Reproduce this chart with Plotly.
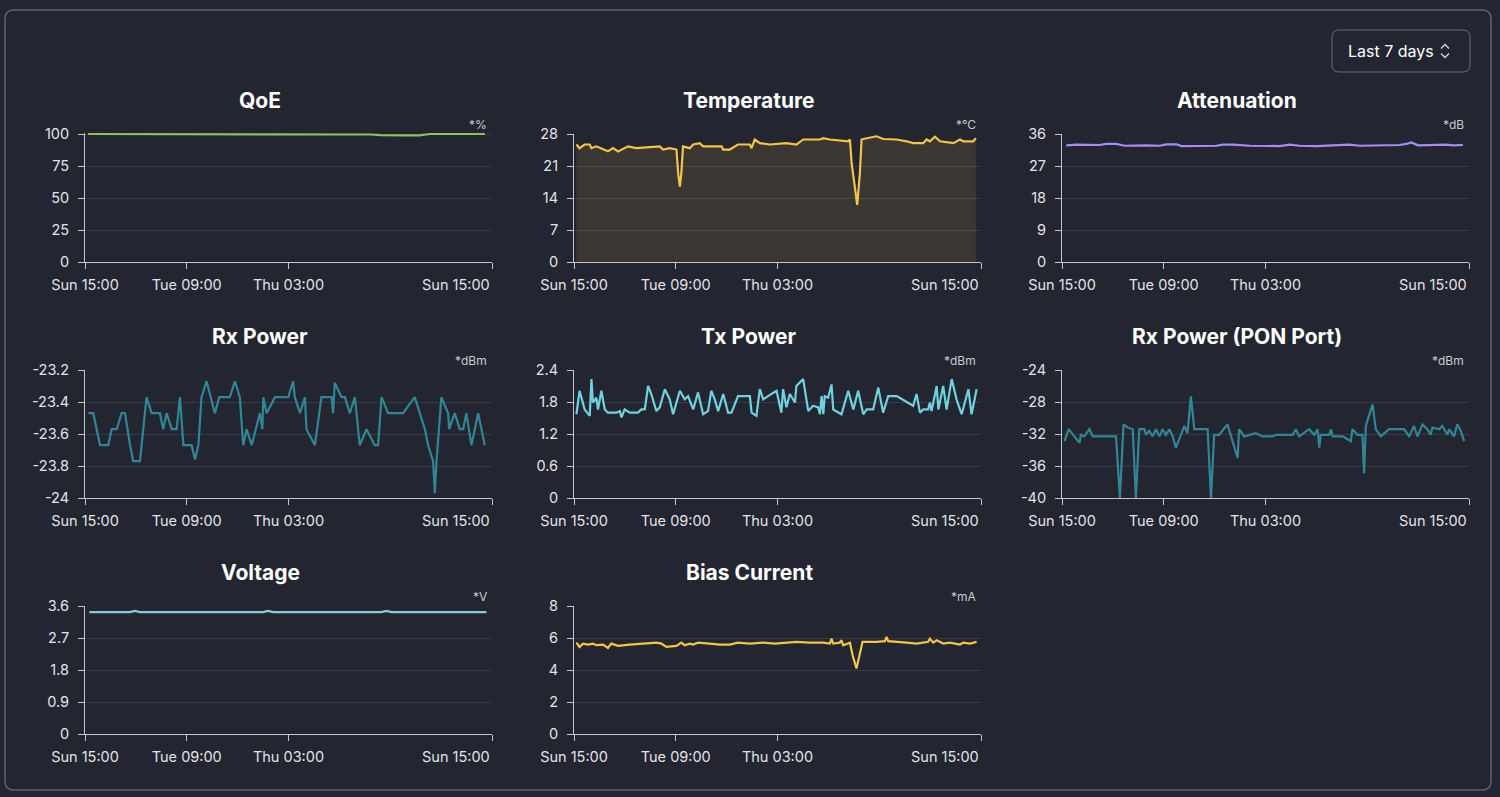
import plotly.graph_objects as go

W, H = 1500, 797
BG = "#232530"
AXIS_COLOR = "#c4c6ce"
GRID_COLOR = "#363946"
TEXT_COLOR = "#e2e3e8"
FONT = "Inter, Roboto, 'Noto Sans', sans-serif"

# ---- x axis (hours since Sun 15:00, 7-day window) ----
X_RANGE = [0, 168]
X_TICK_VALS = [0, 42, 84, 168]
X_TICK_TEXT = ["Sun 15:00", "Tue 09:00", "Thu 03:00", "Sun 15:00"]

# ---- QoE (%) ----
qoe_hours = [1.3, 30, 60, 90, 113.5, 118, 122, 126, 132, 138, 142.4, 150, 165]
qoe_values = [100, 100, 100, 100, 100, 99.6, 99.1, 98.9, 98.9, 99.0, 100, 100, 100]

# ---- Temperature (°C) ----
temp_hours = [1.0, 2.3, 4.4, 6.5, 7.2, 9.2, 14.0, 16.1, 18.2, 22.3, 25.7, 35.4, 36.8,
              39.5, 42.3, 43.0, 43.7, 44.3, 45.0, 47.8, 49.2, 51.9, 53.3, 60.9, 61.6,
              64.3, 67.7, 72.6, 73.3, 74.6, 76.7, 80.8, 87.7, 91.8, 94.6, 101.5, 102.9,
              105.6, 113.2, 113.9, 114.6, 115.9, 116.9, 118.0, 118.7, 119.4, 124.9,
              127.6, 133.2, 137.3, 140.0, 144.2, 145.5, 146.9, 149.0, 151.1, 156.6,
              159.3, 160.7, 164.8, 165.9]
temp_values = [25.7, 24.9, 25.7, 25.7, 24.9, 25.3, 24.2, 24.9, 24.2, 25.3, 24.9, 25.3, 24.6,
               24.9, 24.6, 19.4, 16.5, 19.4, 25.3, 24.9, 25.7, 26.0, 25.3, 25.3, 24.6,
               24.6, 25.7, 25.7, 24.9, 26.8, 26.0, 25.7, 26.0, 25.7, 26.8, 26.8, 27.1,
               26.8, 26.4, 26.8, 21.6, 15.8, 12.5, 19.4, 26.8, 26.9, 27.5,
               26.9, 26.8, 26.4, 26.0, 26.0, 26.8, 26.4, 27.4, 26.4, 26.0,
               26.8, 26.4, 26.4, 27.1]

# ---- Attenuation (dB) ----
att_hours = [1.8, 5.9, 15.5, 18.3, 22.4, 25.9, 34.8, 40.3, 43.1, 47.2, 49.3, 56.8, 63.7,
             66.5, 70.6, 77.5, 84.4, 89.9, 94.0, 98.1, 105.0, 111.9, 118.8, 122.9, 132.5,
             139.4, 142.1, 144.2, 147.0, 153.2, 158.7, 161.4, 165.5]
att_values = [32.8, 33.0, 32.9, 33.2, 33.2, 32.7, 32.8, 32.7, 33.1, 33.1, 32.6, 32.7, 32.7,
              33.0, 33.0, 32.7, 32.7, 32.6, 33.0, 32.7, 32.6, 32.8, 33.0, 32.7, 32.8,
              32.9, 33.2, 33.6, 32.8, 32.9, 33.0, 32.8, 32.9]

# ---- Rx Power (dBm) ----
rx_hours = [1.4, 3.4, 6.2, 9.6, 11.0, 13.1, 15.1, 16.5, 18.6, 19.9, 22.7, 25.4, 27.5, 30.9,
            32.3, 33.7, 35.8, 37.8, 39.2, 40.6, 44.0, 45.4, 46.8, 48.1, 50.2, 53.6, 55.4,
            59.8, 61.9, 63.9, 65.3, 66.7, 68.8, 72.2, 73.2, 73.6, 75.0, 78.4, 83.9, 85.9,
            86.6, 88.7, 90.8, 91.4, 94.9, 97.6, 101.8, 102.4, 103.1, 105.9, 107.3, 109.3,
            111.4, 113.4, 116.2, 119.6, 121.0, 122.4, 125.1, 131.3, 136.1, 140.3, 141.6,
            143.7, 144.4, 145.1, 147.1, 149.9, 150.3, 152.6, 154.7, 156.1, 157.4, 159.5,
            162.3, 165.0]
rx_values = [-23.47, -23.47, -23.67, -23.67, -23.57, -23.57, -23.47, -23.47, -23.67, -23.77,
             -23.77, -23.37, -23.47, -23.47, -23.57, -23.47, -23.57, -23.57, -23.37, -23.67,
             -23.67, -23.76, -23.67, -23.37, -23.27, -23.47, -23.37, -23.37, -23.27, -23.37,
             -23.67, -23.57, -23.67, -23.47, -23.57, -23.37, -23.47, -23.37, -23.37, -23.27,
             -23.37, -23.47, -23.37, -23.57, -23.67, -23.37, -23.37, -23.47, -23.28, -23.37,
             -23.37, -23.47, -23.37, -23.67, -23.57, -23.67, -23.67, -23.37, -23.47, -23.47,
             -23.37, -23.57, -23.67, -23.77, -23.97, -23.77, -23.37, -23.47, -23.57, -23.47,
             -23.57, -23.57, -23.47, -23.67, -23.47, -23.67]

# ---- Tx Power (dBm) ----
tx_hours = [1.0, 2.3, 4.4, 6.5, 7.2, 7.8, 9.2, 9.9, 11.3, 12.7, 14.0, 17.5, 18.9, 19.6,
            20.9, 23.0, 26.4, 27.8, 29.2, 30.6, 31.9, 34.0, 35.4, 37.5, 39.5, 40.9, 43.7,
            45.7, 47.1, 49.2, 51.2, 53.3, 55.3, 56.7, 58.1, 59.5, 61.6, 63.6, 65.0, 67.7,
            69.8, 72.6, 73.3, 75.3, 76.7, 78.1, 80.1, 83.6, 85.6, 86.3, 87.7, 89.1, 91.2,
            91.8, 94.6, 96.7, 98.7, 100.8, 101.5, 102.2, 102.9, 103.5, 104.9, 106.3, 107.0,
            110.4, 113.2, 115.3, 117.3, 119.4, 120.8, 123.5, 125.6, 127.6, 129.7, 133.2,
            140.0, 141.4, 142.8, 144.2, 146.2, 146.9, 147.6, 149.7, 150.4, 152.4, 153.8,
            155.9, 157.9, 160.0, 162.8, 164.1, 166.2]
tx_values = [1.57, 2.01, 1.66, 1.54, 2.23, 1.79, 1.88, 1.66, 2.01, 1.66, 1.60, 1.60, 1.63,
             1.51, 1.66, 1.60, 1.60, 1.66, 1.66, 2.10, 1.95, 1.63, 1.70, 2.04, 1.85, 1.57,
             2.01, 1.85, 1.91, 1.66, 1.98, 1.57, 1.63, 2.01, 1.85, 1.63, 1.95, 1.60, 1.60,
             1.91, 1.91, 1.91, 1.60, 1.54, 2.04, 1.85, 1.91, 2.01, 1.60, 2.04, 1.70, 1.95,
             1.79, 2.10, 2.23, 1.63, 1.73, 1.70, 1.57, 1.91, 1.57, 1.91, 1.88, 2.13, 1.66,
             1.57, 2.01, 1.66, 2.01, 1.57, 1.66, 1.66, 2.07, 1.60, 1.91, 1.91, 1.73, 1.95,
             1.60, 1.66, 1.66, 1.79, 1.63, 2.10, 1.66, 2.10, 1.66, 2.23, 1.85, 1.57, 2.04,
             1.57, 2.04]

# ---- Rx Power, PON port (dBm) ----
pon_hours = [1.0, 2.8, 5.1, 7.2, 7.8, 9.2, 11.3, 12.7, 22.3, 23.9, 25.4, 27.1, 29.2, 30.5,
             31.9, 34.0, 34.7, 36.0, 37.4, 38.8, 40.2, 41.5, 42.9, 44.3, 45.7, 47.0, 49.1,
             50.5, 51.8, 53.2, 54.6, 60.1, 61.5, 62.8, 64.9, 68.3, 70.4, 72.5, 73.1, 75.2,
             80.0, 82.8, 86.9, 88.3, 95.2, 96.5, 97.9, 102.0, 104.1, 105.5, 106.2, 106.8,
             110.3, 111.0, 111.7, 115.8, 119.2, 119.9, 122.0, 124.0, 124.7, 125.4, 128.2,
             129.5, 131.6, 135.0, 141.2, 143.3, 145.3, 146.7, 148.8, 150.8, 152.2, 152.9,
             155.7, 157.0, 159.1, 159.8, 161.8, 163.2, 164.6, 166.0]
pon_values = [-32.9, -31.4, -32.3, -33.1, -32.1, -32.3, -31.4, -32.3, -32.3, -40.0, -30.8,
              -31.2, -31.4, -40.0, -31.4, -31.4, -32.1, -31.6, -32.3, -31.4, -32.3, -31.4,
              -32.1, -31.4, -32.3, -33.7, -32.1, -31.0, -31.9, -27.3, -31.4, -31.4, -40.0,
              -32.1, -32.1, -30.8, -32.9, -35.0, -31.4, -32.3, -31.9, -32.3, -32.3, -32.1,
              -32.1, -31.4, -32.3, -31.4, -32.1, -31.4, -33.7, -32.1, -32.1, -31.4, -32.3,
              -32.3, -32.9, -31.4, -32.1, -32.1, -36.9, -31.0, -28.3, -31.4, -32.3, -31.4,
              -31.4, -32.3, -31.0, -32.3, -30.8, -31.4, -32.1, -31.2, -31.4, -31.0, -32.1,
              -31.4, -32.3, -30.8, -31.6, -32.9]

# ---- Voltage (V) ----
volt_hours = [1.8, 18.5, 20.6, 22.7, 73.5, 75.6, 77.7, 122.3, 124.4, 126.5, 165.7]
volt_values = [3.43, 3.43, 3.46, 3.43, 3.43, 3.46, 3.43, 3.43, 3.46, 3.43, 3.43]

# ---- Bias Current (mA) ----
bias_hours = [1.0, 2.3, 3.7, 5.8, 7.8, 9.2, 12.0, 14.0, 15.4, 18.2, 23.0, 28.5, 31.3, 34.0,
              36.1, 38.1, 42.3, 44.3, 45.7, 47.8, 49.2, 51.2, 56.0, 60.2, 64.3, 67.7, 72.6,
              78.1, 82.9, 87.0, 91.8, 97.4, 102.9, 105.6, 106.3, 107.0, 109.7, 110.4, 111.1,
              113.9, 115.0, 116.6, 118.0, 119.1, 124.9, 128.3, 129.0, 129.7, 137.3, 141.4,
              146.2, 146.9, 148.3, 149.7, 152.4, 155.2, 159.3, 160.7, 163.4, 166.2]
bias_values = [5.71, 5.44, 5.65, 5.59, 5.65, 5.55, 5.59, 5.38, 5.65, 5.51, 5.59, 5.65, 5.71,
               5.71, 5.65, 5.44, 5.51, 5.71, 5.55, 5.65, 5.59, 5.71, 5.65, 5.59, 5.59, 5.71,
               5.65, 5.71, 5.65, 5.71, 5.76, 5.71, 5.71, 5.65, 5.96, 5.65, 5.71, 5.86, 5.55,
               5.71, 4.92, 4.09, 4.92, 5.76, 5.76, 5.80, 6.07, 5.80, 5.71, 5.65, 5.76, 5.96,
               5.71, 5.86, 5.65, 5.71, 5.59, 5.71, 5.65, 5.76]

# ---- y tick values / labels ----
qoe_ticks = [0, 25, 50, 75, 100]
qoe_labels = ["0", "25", "50", "75", "100"]
temp_ticks = [0, 7, 14, 21, 28]
temp_labels = ["0", "7", "14", "21", "28"]
att_ticks = [0, 9, 18, 27, 36]
att_labels = ["0", "9", "18", "27", "36"]
rx_ticks = [-24, -23.8, -23.6, -23.4, -23.2]
rx_labels = ["-24", "-23.8", "-23.6", "-23.4", "-23.2"]
tx_ticks = [0, 0.6, 1.2, 1.8, 2.4]
tx_labels = ["0", "0.6", "1.2", "1.8", "2.4"]
pon_ticks = [-40, -36, -32, -28, -24]
pon_labels = ["-40", "-36", "-32", "-28", "-24"]
volt_ticks = [0, 0.9, 1.8, 2.7, 3.6]
volt_labels = ["0", "0.9", "1.8", "2.7", "3.6"]
bias_ticks = [0, 2, 4, 6, 8]
bias_labels = ["0", "2", "4", "6", "8"]

# headroom (in px) above the top tick so a line sitting on the max is not clipped
panels = [
    dict(title="QoE", unit="*%", x=qoe_hours, y=qoe_values, color="#8cc35c",
         ticks=qoe_ticks, labels=qoe_labels, fill=None, headroom=1.5),
    dict(title="Temperature", unit="*°C", x=temp_hours, y=temp_values, color="#f3c545",
         ticks=temp_ticks, labels=temp_labels, fill="rgba(245,200,70,0.11)", headroom=0),
    dict(title="Attenuation", unit="*dB", x=att_hours, y=att_values, color="#a88cf6",
         ticks=att_ticks, labels=att_labels, fill=None, headroom=0),
    dict(title="Rx Power", unit="*dBm", x=rx_hours, y=rx_values, color="#318696",
         ticks=rx_ticks, labels=rx_labels, fill=None, headroom=0),
    dict(title="Tx Power", unit="*dBm", x=tx_hours, y=tx_values, color="#6fd2df",
         ticks=tx_ticks, labels=tx_labels, fill=None, headroom=0),
    dict(title="Rx Power (PON Port)", unit="*dBm", x=pon_hours, y=pon_values, color="#318696",
         ticks=pon_ticks, labels=pon_labels, fill=None, headroom=0),
    dict(title="Voltage", unit="*V", x=volt_hours, y=volt_values, color="#80d0dc",
         ticks=volt_ticks, labels=volt_labels, fill=None, headroom=0),
    dict(title="Bias Current", unit="*mA", x=bias_hours, y=bias_values, color="#f3c545",
         ticks=bias_ticks, labels=bias_labels, fill=None, headroom=0),
]

# layout geometry (pixels)
COL_LEFT = [85, 574, 1062]
ROW_TOP = [134, 370, 606]
PW, PH = 407, 128
TITLE_OFFSET = 232  # title centre measured from the plot's right edge


def px(x):
    return x / W


def py(y):
    return 1 - y / H


fig = go.Figure()
annotations = []
layout_axes = {}

TICK_FONT = dict(size=14.5, color=TEXT_COLOR, family=FONT)

# all but the final x tick label are drawn by the axis; the final one is right-aligned
axis_tick_text = X_TICK_TEXT[:-1] + [""]

for i, p in enumerate(panels):
    r, c = divmod(i, 3)
    x0 = COL_LEFT[c]
    x1 = x0 + PW
    top = ROW_TOP[r]
    bottom = top + PH
    n = "" if i == 0 else str(i + 1)
    xa, ya = "x" + n, "y" + n
    fig.add_trace(go.Scatter(
        x=p["x"], y=p["y"], xaxis=xa, yaxis=ya, mode="lines",
        line=dict(color=p["color"], width=2.2, shape="linear"),
        fill="tozeroy" if p["fill"] else None, cliponaxis=False,
        fillcolor=p["fill"], hoverinfo="skip", showlegend=False,
    ))
    lo, hi = p["ticks"][0], p["ticks"][-1]
    extra = p["headroom"]
    hi_range = hi + (hi - lo) * extra / PH
    layout_axes["xaxis" + n] = dict(
        domain=[px(x0), px(x1)], anchor=ya, range=X_RANGE, automargin=False,
        tickmode="array", tickvals=X_TICK_VALS, ticktext=axis_tick_text,
        showgrid=False, zeroline=False, showline=True, linecolor=AXIS_COLOR,
        linewidth=1, ticks="outside", ticklen=6, tickcolor=AXIS_COLOR,
        ticklabelstandoff=4, tickfont=TICK_FONT, fixedrange=True,
    )
    layout_axes["yaxis" + n] = dict(
        domain=[py(bottom), py(top - extra)], anchor=xa, range=[lo, hi_range],
        automargin=False,
        tickmode="array", tickvals=p["ticks"], ticktext=p["labels"],
        showgrid=True, gridcolor=GRID_COLOR, gridwidth=1, zeroline=False,
        showline=True, linecolor=AXIS_COLOR, linewidth=1, ticks="outside",
        ticklen=6, tickcolor=AXIS_COLOR, ticklabelstandoff=6,
        tickfont=TICK_FONT, fixedrange=True,
    )
    annotations.append(dict(
        text=X_TICK_TEXT[-1], x=X_RANGE[1], xref=xa, y=py(bottom + 22), yref="paper",
        xanchor="right", yanchor="middle", showarrow=False, font=TICK_FONT,
    ))
    annotations.append(dict(
        text="<b>" + p["title"] + "</b>", x=px(x1 - TITLE_OFFSET), y=py(top - 34),
        xref="paper", yref="paper", xanchor="center", yanchor="middle",
        showarrow=False, font=dict(size=21, color="#ffffff", family=FONT),
    ))
    annotations.append(dict(
        text=p["unit"], x=px(x1 - 3), y=py(top - 10),
        xref="paper", yref="paper", xanchor="right", yanchor="middle",
        showarrow=False, font=dict(size=12, color="#c9cbd2", family=FONT),
    ))

# "Last 7 days" selector
annotations.append(dict(
    text="Last 7 days", x=px(1391), y=py(51), xref="paper", yref="paper",
    xanchor="center", yanchor="middle", showarrow=False,
    font=dict(size=16, color="#ffffff", family=FONT),
))


def rounded_rect(x0, y0, x1, y1, rad):
    pts = [
        f"M {px(x0 + rad)},{py(y0)}",
        f"L {px(x1 - rad)},{py(y0)}",
        f"Q {px(x1)},{py(y0)} {px(x1)},{py(y0 + rad)}",
        f"L {px(x1)},{py(y1 - rad)}",
        f"Q {px(x1)},{py(y1)} {px(x1 - rad)},{py(y1)}",
        f"L {px(x0 + rad)},{py(y1)}",
        f"Q {px(x0)},{py(y1)} {px(x0)},{py(y1 - rad)}",
        f"L {px(x0)},{py(y0 + rad)}",
        f"Q {px(x0)},{py(y0)} {px(x0 + rad)},{py(y0)}",
        "Z",
    ]
    return " ".join(pts)


shapes = [
    dict(type="path", path=rounded_rect(5, 10, 1491, 790, 9), xref="paper", yref="paper",
         line=dict(color="#5f6273", width=1.5), fillcolor="rgba(0,0,0,0)", layer="below"),
    dict(type="path", path=rounded_rect(1332, 30, 1470, 72, 7), xref="paper", yref="paper",
         line=dict(color="#666a7a", width=1), fillcolor="rgba(0,0,0,0)", layer="below"),
    dict(type="path",
         path=f"M {px(1441)},{py(48.5)} L {px(1445)},{py(44.5)} L {px(1449)},{py(48.5)}",
         xref="paper", yref="paper", line=dict(color="#d8d9de", width=1.3)),
    dict(type="path",
         path=f"M {px(1441)},{py(53.5)} L {px(1445)},{py(57.5)} L {px(1449)},{py(53.5)}",
         xref="paper", yref="paper", line=dict(color="#d8d9de", width=1.3)),
]

fig.update_layout(
    width=W, height=H, margin=dict(l=0, r=0, t=0, b=0, autoexpand=False),
    paper_bgcolor=BG, plot_bgcolor=BG,
    font=dict(family=FONT, color=TEXT_COLOR),
    annotations=annotations, shapes=shapes, showlegend=False,
    **layout_axes,
)

fig.write_html("out.html", config=dict(displayModeBar=False))
